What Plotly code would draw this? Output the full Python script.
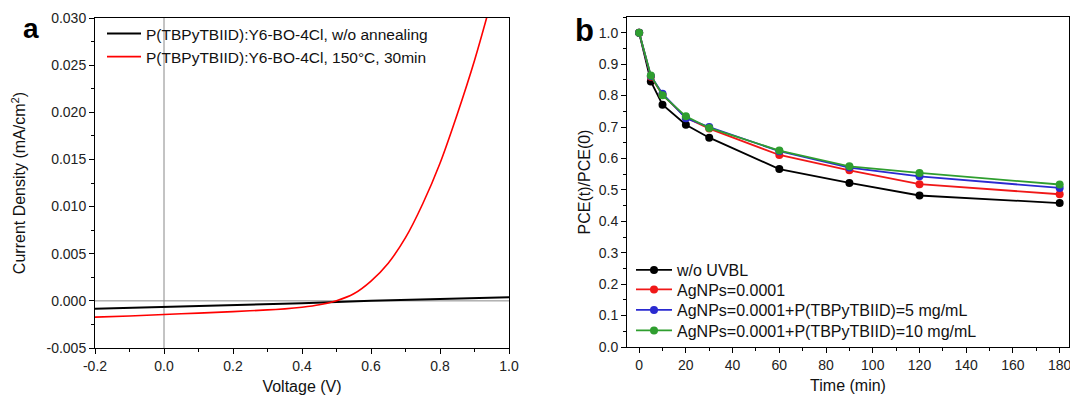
import plotly.graph_objects as go

# ---------- Panel a data ----------
volt_black = [-0.2, 0.0, 0.2, 0.4, 0.6, 0.8, 1.0]
j_black = [-0.00085, -0.00066, -0.00047, -0.00025, 0.00000, 0.00016, 0.00038]

volt_red = [-0.2, -0.1, 0.0, 0.1, 0.2, 0.3, 0.35, 0.4, 0.45, 0.5, 0.55, 0.6,
            0.65, 0.7, 0.75, 0.8, 0.85, 0.9, 0.95, 1.0]
j_red = [-0.00173, -0.00160, -0.00145, -0.00130, -0.00114, -0.00096, -0.00085,
         -0.00068, -0.00042, 0.00002, 0.00075, 0.0021, 0.0040, 0.0067, 0.0103,
         0.0146, 0.0198, 0.0255, 0.0320, 0.0390]

name_a1 = "P(TBPyTBIID):Y6-BO-4Cl, w/o annealing"
name_a2 = "P(TBPyTBIID):Y6-BO-4Cl, 150°C, 30min"

volt_ticks = [-0.2, 0.0, 0.2, 0.4, 0.6, 0.8, 1.0]
volt_labels = ["-0.2", "0.0", "0.2", "0.4", "0.6", "0.8", "1.0"]
j_ticks = [-0.005, 0.0, 0.005, 0.010, 0.015, 0.020, 0.025, 0.030]
j_labels = ["-0.005", "0.000", "0.005", "0.010", "0.015", "0.020", "0.025", "0.030"]

# ---------- Panel b data ----------
time_min = [0, 5, 10, 20, 30, 60, 90, 120, 180]
pce_black = [1.0, 0.845, 0.771, 0.707, 0.666, 0.566, 0.522, 0.482, 0.458]
pce_red = [1.0, 0.860, 0.803, 0.730, 0.695, 0.611, 0.562, 0.518, 0.486]
pce_blue = [1.0, 0.862, 0.806, 0.728, 0.700, 0.623, 0.571, 0.543, 0.506]
pce_green = [1.0, 0.864, 0.801, 0.734, 0.697, 0.625, 0.575, 0.554, 0.517]
names_b = ["w/o UVBL", "AgNPs=0.0001", "AgNPs=0.0001+P(TBPyTBIID)=5 mg/mL",
           "AgNPs=0.0001+P(TBPyTBIID)=10 mg/mL"]
colors_b = ["#000000", "#f01818", "#2a2ad0", "#2f9e2f"]

FONT = "Liberation Sans, Arial, sans-serif"
W, H = 1070, 399


def px_x(p):
    return p / W


def px_y(p):
    return (H - p) / H


fig = go.Figure()

fig.add_trace(go.Scatter(x=volt_black, y=j_black, mode="lines", name=name_a1,
                         line=dict(color="#000000", width=2),
                         xaxis="x", yaxis="y", legend="legend6", showlegend=True))
fig.add_trace(go.Scatter(x=volt_red, y=j_red, mode="lines", name=name_a2,
                         line=dict(color="#ff0000", width=1.6, shape="spline", smoothing=0.6),
                         xaxis="x", yaxis="y", legend="legend7", showlegend=True))

legend_ids_b = ["legend", "legend2", "legend3", "legend4"]
for ys, nm, c, lg in zip([pce_black, pce_red, pce_blue, pce_green], names_b, colors_b, legend_ids_b):
    fig.add_trace(go.Scatter(x=time_min, y=ys, mode="lines+markers", name=nm,
                             line=dict(color=c, width=1.8),
                             marker=dict(color=c, size=8, symbol="circle"),
                             xaxis="x2", yaxis="y2", legend=lg, showlegend=True))

axis_common = dict(showline=True, linecolor="#000000", linewidth=1, mirror=True,
                   ticks="outside", ticklen=5, tickwidth=1, tickcolor="#000000",
                   showgrid=False, zeroline=False, automargin=False,
                   ticklabeloverflow="allow",
                   tickfont=dict(family=FONT, size=14, color="#222222"))


def legend_box(xp, yp, size, iw):
    return dict(x=px_x(xp), y=px_y(yp), xanchor="left", yanchor="middle",
                bgcolor="rgba(0,0,0,0)", font=dict(family=FONT, size=size, color="#111111"),
                tracegroupgap=0, itemwidth=iw, visible=True)


legend_rows_b = [270, 289.5, 310, 330.5]

layout_legends = {}
for lg, yrow in zip(legend_ids_b, legend_rows_b):
    layout_legends[lg] = legend_box(631, yrow, 16, 36)
layout_legends["legend6"] = legend_box(102, 34, 15.5, 34)
layout_legends["legend7"] = legend_box(102, 57, 15.5, 34)

fig.update_layout(
    width=W, height=H,
    showlegend=True,
    margin=dict(l=0, r=0, t=0, b=0, autoexpand=False),
    paper_bgcolor="white", plot_bgcolor="white",
    font=dict(family=FONT, color="#111111"),
    xaxis=dict(domain=[px_x(95), px_x(509)], range=[-0.2, 1.0],
               tickmode="array", tickvals=volt_ticks, ticktext=volt_labels,
               minor=dict(ticks="outside", ticklen=3, dtick=0.1, tickcolor="#000000"),
               title=dict(text="Voltage (V)", font=dict(family=FONT, size=16), standoff=8),
               anchor="y", **axis_common),
    yaxis=dict(domain=[px_y(348), px_y(18)], range=[-0.005, 0.030],
               tickmode="array", tickvals=j_ticks, ticktext=j_labels,
               minor=dict(ticks="outside", ticklen=3, dtick=0.0025, tickcolor="#000000"),
               title=dict(text="Current Density (mA/cm<sup>2</sup>)",
                          font=dict(family=FONT, size=16), standoff=16),
               anchor="x", **axis_common),
    xaxis2=dict(domain=[px_x(627), px_x(1069)], range=[-5.2, 184], dtick=20,
                tick0=0, tickformat="d",
                minor=dict(ticks="outside", ticklen=3, dtick=10, tickcolor="#000000"),
                title=dict(text="Time (min)", font=dict(family=FONT, size=16), standoff=8),
                anchor="y2", **axis_common),
    yaxis2=dict(domain=[px_y(347), px_y(17)], range=[0, 1.05], dtick=0.1,
                tick0=0, tickformat=".1f",
                minor=dict(ticks="outside", ticklen=3, dtick=0.05, tickcolor="#000000"),
                title=dict(text="PCE(t)/PCE(0)", font=dict(family=FONT, size=16), standoff=4),
                anchor="x2", **axis_common),
    shapes=[
        dict(type="line", xref="x", yref="y domain", x0=0, x1=0, y0=0, y1=1,
             line=dict(color="#888888", width=1), layer="below"),
        dict(type="line", xref="x domain", yref="y", x0=0, x1=1, y0=0, y1=0,
             line=dict(color="#888888", width=1), layer="below"),
    ],
    annotations=[
        dict(text="<b>a</b>", x=px_x(31), y=px_y(28), xref="paper", yref="paper",
             xanchor="center", yanchor="middle",
             showarrow=False, font=dict(family=FONT, size=28, color="#000000")),
        dict(text="<b>b</b>", x=px_x(584), y=px_y(30), xref="paper", yref="paper",
             xanchor="center", yanchor="middle",
             showarrow=False, font=dict(family=FONT, size=31, color="#000000")),
    ],
    **layout_legends,
)

fig.write_html("out.html", config={"displayModeBar": False},
               post_script="document.body.style.margin='0';")
